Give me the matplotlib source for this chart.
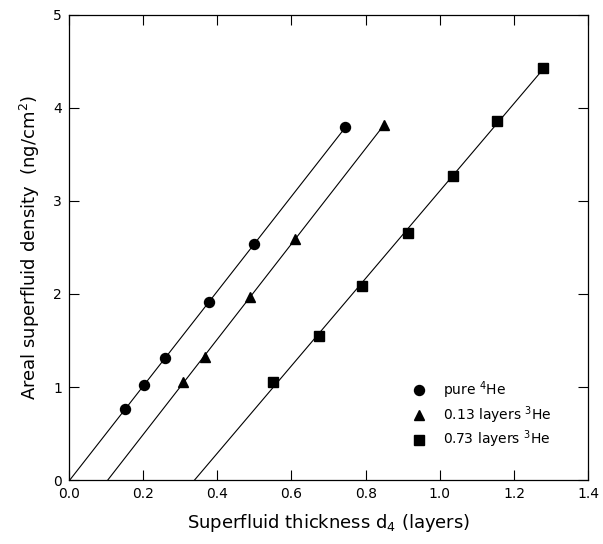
import numpy as np
import matplotlib
matplotlib.use("Agg")
import matplotlib.pyplot as plt

# --- Data ---
x_pure = [0.151, 0.203, 0.260, 0.377, 0.500, 0.745]
y_pure = [0.76, 1.025, 1.315, 1.91, 2.54, 3.79]

x_013 = [0.307, 0.367, 0.488, 0.610, 0.850]
y_013 = [1.05, 1.326, 1.97, 2.59, 3.82]

x_073 = [0.549, 0.673, 0.790, 0.914, 1.036, 1.154, 1.277]
y_073 = [1.05, 1.55, 2.086, 2.66, 3.265, 3.86, 4.43]

labels = ["pure $^4$He", "0.13 layers $^3$He", "0.73 layers $^3$He"]
markers = ["o", "^", "s"]

plt.rcParams["font.family"] = ["DejaVu Sans"]
plt.rcParams["mathtext.default"] = "regular"

fig = plt.figure(figsize=(6.03, 5.44), dpi=100)
ax = fig.add_axes([0.1144, 0.1176, 0.861, 0.855])

series = [(x_pure, y_pure), (x_013, y_013), (x_073, y_073)]
for (xs, ys), lab, m in zip(series, labels, markers):
    xs = np.array(xs)
    ys = np.array(ys)
    # linear fit drawn from the x-intercept to the last point
    slope, icpt = np.polyfit(xs, ys, 1)
    x0 = -icpt / slope
    xl = np.array([x0, xs.max()])
    ax.plot(xl, slope * xl + icpt, color="black", linewidth=0.8)
    ms = 7.8 if m == "^" else 7.2
    ax.plot(xs, ys, linestyle="none", marker=m, markersize=ms,
            color="black", label=lab)

ax.set_xlim(0, 1.4)
ax.set_ylim(0, 5)
ax.set_xticks(np.arange(0, 1.41, 0.2))
ax.set_xticklabels([f"{v:.1f}" for v in np.arange(0, 1.41, 0.2)])
ax.set_yticks(range(0, 6))

ax.tick_params(direction="in", top=True, right=True, length=7, width=0.8,
               labelsize=10, pad=5)
for sp in ax.spines.values():
    sp.set_linewidth(0.9)

ax.set_xlabel("Superfluid thickness d$_4$ (layers)", fontsize=13, labelpad=8)
ax.set_ylabel("Areal superfluid density  (ng/cm$^2$)", fontsize=13, labelpad=8)

ax.legend(loc="upper left", bbox_to_anchor=(0.635, 0.243), frameon=False,
          fontsize=10, handlelength=1.2, handletextpad=1.1, labelspacing=0.22,
          numpoints=1)

plt.savefig("out.png", dpi=100)
